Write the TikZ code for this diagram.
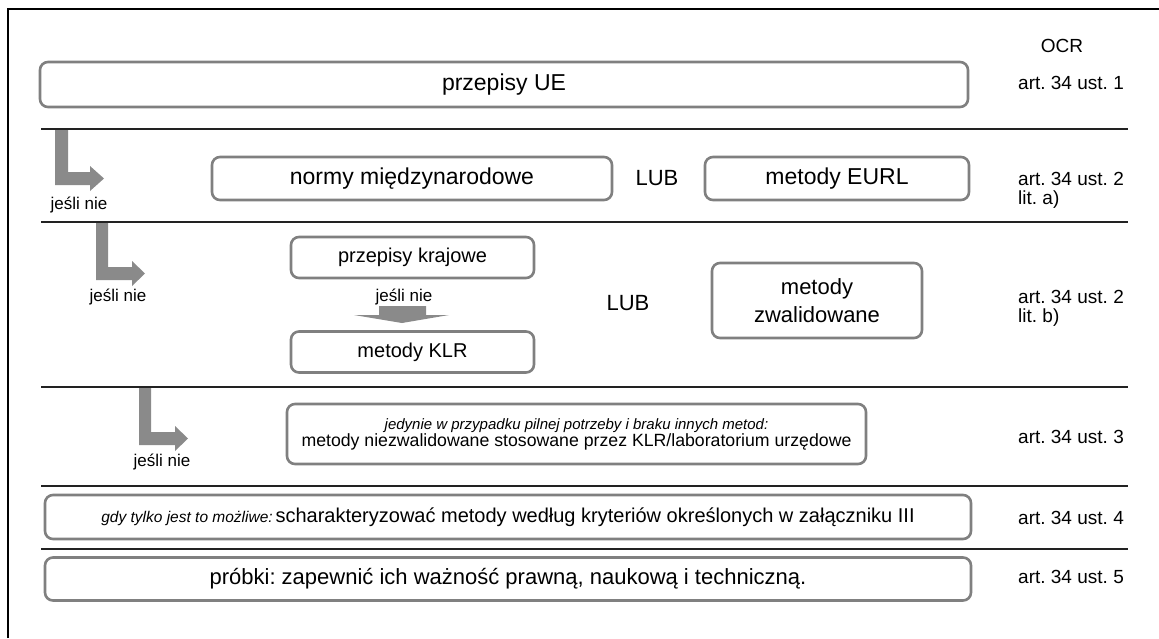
\documentclass[tikz,border=0pt]{standalone}
\usepackage{fontspec}
\setmainfont{Liberation Sans}
\frenchspacing
\definecolor{boxgray}{HTML}{808080}
\definecolor{arrgray}{HTML}{8A8A8A}
\definecolor{linegray}{HTML}{222222}
\begin{document}
\begin{tikzpicture}[x=1pt,y=-1pt,
  box/.style={draw=boxgray, line width=2.6pt, rounded corners=8pt, inner sep=0pt, align=center, text=black},
  sep/.style={draw=linegray, line width=1.1pt},
  frm/.style={draw=black, line width=1.6pt},
  arr/.style={fill=arrgray, draw=none},
  art/.style={anchor=west, inner sep=0pt, font=\fontsize{19}{22}\selectfont, align=left},
  lbl/.style={inner sep=0pt, font=\fontsize{17}{20}\selectfont},
  big/.style={font=\fontsize{23}{27}\selectfont},
  mid/.style={font=\fontsize{20}{24}\selectfont}]
\useasboundingbox (0,0) rectangle (1159,638);
\fill[white] (0,0) rectangle (1159,638);
% frame
\draw[frm] (8,638) -- (8,9) -- (1159,9);
% separators
\foreach \yy in {129,222,387,486,549} {\draw[sep] (41,\yy) -- (1128,\yy);}
% header
\node[inner sep=0pt, font=\fontsize{19}{22}\selectfont] (ocr) at (1062,46) {OCR};
% row 1
\node[box, big, minimum width=928, minimum height=45] (ue) at (504,84.5) {przepisy UE};
\node[art] (a1) at (1018,83) {art. 34 ust. 1};
% row 2
\node[box, big, minimum width=400, minimum height=43] (normy) at (412,178.5) {normy międzynarodowe};
\node[inner sep=0pt, font=\fontsize{22}{26}\selectfont] (lub1) at (657,178) {LUB};
\node[box, big, minimum width=264, minimum height=43] (eurl) at (837,178.5) {metody EURL};
\node[art] (a2a) at (1018,179) {art. 34 ust. 2};
\node[art] (a2al) at (1018,200) {lit. a)};
\draw[arr] (55,130) -- (68,130) -- (68,172) -- (90,172) -- (90,166) -- (104,178.5) -- (90,191) -- (90,185) -- (55,185) -- cycle;
\node[lbl] (j1) at (79,205) {jeśli nie};
% row 3
\node[box, mid, minimum width=243, minimum height=41] (kraj) at (412.5,257.5) {przepisy krajowe};
\node[lbl] (j2b) at (404,297) {jeśli nie};
\draw[arr] (379,306) -- (426,306) -- (426,315) -- (449,315) -- (402,323) -- (354,315) -- (379,315) -- cycle;
\node[box, mid, minimum width=243, minimum height=41] (klr) at (412.5,352) {metody KLR};
\node[inner sep=0pt, font=\fontsize{22}{26}\selectfont] (lub2) at (628,303) {LUB};
\node[box, font=\fontsize{22}{28}\selectfont, minimum width=210, minimum height=75] (zwal) at (817,300.5) {metody\\zwalidowane};
\node[art] (a2b) at (1018,297) {art. 34 ust. 2};
\node[art] (a2bl) at (1018,318) {lit. b)};
\draw[arr] (96,223) -- (108,223) -- (108,267) -- (132,267) -- (132,261) -- (145,273.5) -- (132,286) -- (132,280) -- (96,280) -- cycle;
\node[lbl] (j2) at (118,297) {jeśli nie};
% row 4
\node[box, minimum width=579, minimum height=60] (niezw) at (576.5,434) {{\fontsize{15}{20}\selectfont\itshape jedynie w przypadku pilnej potrzeby i braku innych metod:}\\{\fontsize{17.7}{22}\selectfont metody niezwalidowane stosowane przez KLR/laboratorium urzędowe}};
\node[art] (a3) at (1018,437) {art. 34 ust. 3};
\draw[arr] (139,388) -- (151,388) -- (151,432) -- (175,432) -- (175,426) -- (188,438.5) -- (175,451) -- (175,445) -- (139,445) -- cycle;
\node[lbl] (j3) at (162,462) {jeśli nie};
% row 5
\node[box, minimum width=926, minimum height=44] (char) at (508,517) {{\fontsize{15.5}{20}\selectfont\itshape gdy tylko jest to możliwe:} {\fontsize{20}{24}\selectfont scharakteryzować metody według kryteriów określonych w załączniku III}};
\node[art] (a4) at (1018,518) {art. 34 ust. 4};
% row 6
\node[box, font=\fontsize{22}{26}\selectfont, minimum width=926, minimum height=43] (prob) at (508,579) {próbki: zapewnić ich ważność prawną, naukową i techniczną.};
\node[art] (a5) at (1018,577) {art. 34 ust. 5};
\end{tikzpicture}
\end{document}
